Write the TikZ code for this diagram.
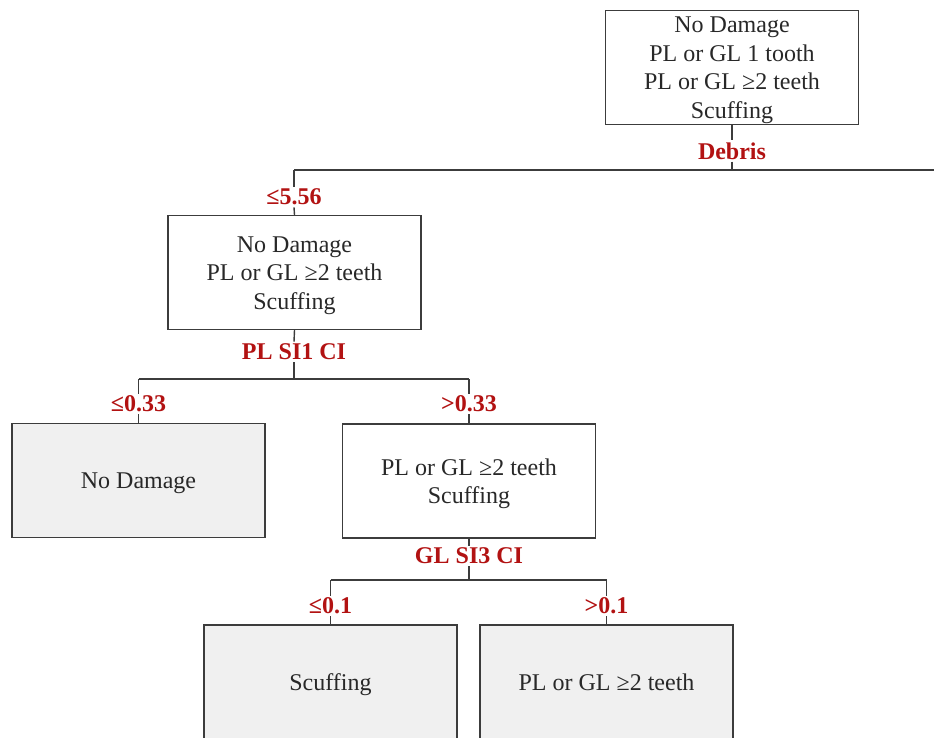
\documentclass[tikz,border=0pt]{standalone}
\usepackage{fontspec}
\setmainfont{Liberation Serif}
\definecolor{boxline}{RGB}{60,60,60}
\definecolor{txt}{RGB}{40,40,40}
\definecolor{leafgray}{RGB}{240,240,240}
\definecolor{lblred}{RGB}{178,18,18}
\begin{document}
\begin{tikzpicture}[x=1pt,y=-1pt,
  box/.style={draw=boxline, line width=1.4pt, inner sep=0pt,
              minimum width=253pt, minimum height=114pt},
  leaf/.style={box, fill=leafgray},
  tline/.style={anchor=base, inner sep=0pt, text=txt, font=\fontsize{24}{28.6}\selectfont},
  lbl/.style={text=lblred, inner sep=2pt, font=\fontsize{24}{26}\selectfont\bfseries},
  conn/.style={draw=boxline, line width=1.4pt}]
\useasboundingbox (0,0) rectangle (934,738);
\clip (0,0) rectangle (934,738);

% boxes
\node[box]  (root) at (732,67.8)    {};
\node[box]  (n2)   at (294.5,272.5) {};
\node[leaf] (n3)   at (138.5,480.5) {};
\node[box]  (n4)   at (469,481)     {};
\node[leaf] (n5)   at (330.5,682)   {};
\node[leaf] (n6)   at (606.5,682)   {};

% box texts
\node[tline] (root-a) at (732,32.8)  {No Damage};
\node[tline] (root-b) at (732,61.4)  {PL or GL 1 tooth};
\node[tline] (root-c) at (732,90.0)  {PL or GL ≥2 teeth};
\node[tline] (root-d) at (732,118.6) {Scuffing};

\node[tline] (n2-a) at (294.5,252.3) {No Damage};
\node[tline] (n2-b) at (294.5,280.9) {PL or GL ≥2 teeth};
\node[tline] (n2-c) at (294.5,309.5) {Scuffing};

\node[tline] (n3-a) at (138.5,488.5) {No Damage};

\node[tline] (n4-a) at (469,475.2) {PL or GL ≥2 teeth};
\node[tline] (n4-b) at (469,503.8) {Scuffing};

\node[tline] (n5-a) at (330.5,690) {Scuffing};
\node[tline] (n6-a) at (606.5,690) {PL or GL ≥2 teeth};

% labels
\node[lbl] (ldebris) at (732,151) {Debris};
\node[lbl] (l556)    at (294,197) {≤5.56};
\node[lbl] (lpl)     at (294,352) {PL SI1 CI};
\node[lbl] (l033a)   at (138.5,404) {≤0.33};
\node[lbl] (l033b)   at (469,404) {>0.33};
\node[lbl] (lgl)     at (469,556) {GL SI3 CI};
\node[lbl] (l01a)    at (330.5,606) {≤0.1};
\node[lbl] (l01b)    at (606.5,606) {>0.1};

% junctions
\coordinate (j1)  at (732,170);
\coordinate (j1L) at (294,170);
\coordinate (j1R) at (950,170);
\coordinate (j2)  at (294,379);
\coordinate (j2L) at (138.5,379);
\coordinate (j2R) at (469,379);
\coordinate (j3)  at (469,580);
\coordinate (j3L) at (330.5,580);
\coordinate (j3R) at (606.5,580);

% connectors
\draw[conn] (root.south) -- (ldebris.north);
\draw[conn] (ldebris.south) -- (j1);
\draw[conn] (j1L) -- (j1R);
\draw[conn] (j1L) -- (l556.north);
\draw[conn] (l556.south) -- (n2.north);

\draw[conn] (n2.south) -- (lpl.north);
\draw[conn] (lpl.south) -- (j2);
\draw[conn] (j2L) -- (j2R);
\draw[conn] (j2L) -- (l033a.north);
\draw[conn] (l033a.south) -- (n3.north);
\draw[conn] (j2R) -- (l033b.north);
\draw[conn] (l033b.south) -- (n4.north);

\draw[conn] (n4.south) -- (lgl.north);
\draw[conn] (lgl.south) -- (j3);
\draw[conn] (j3L) -- (j3R);
\draw[conn] (j3L) -- (l01a.north);
\draw[conn] (l01a.south) -- (n5.north);
\draw[conn] (j3R) -- (l01b.north);
\draw[conn] (l01b.south) -- (n6.north);
\end{tikzpicture}
\end{document}
